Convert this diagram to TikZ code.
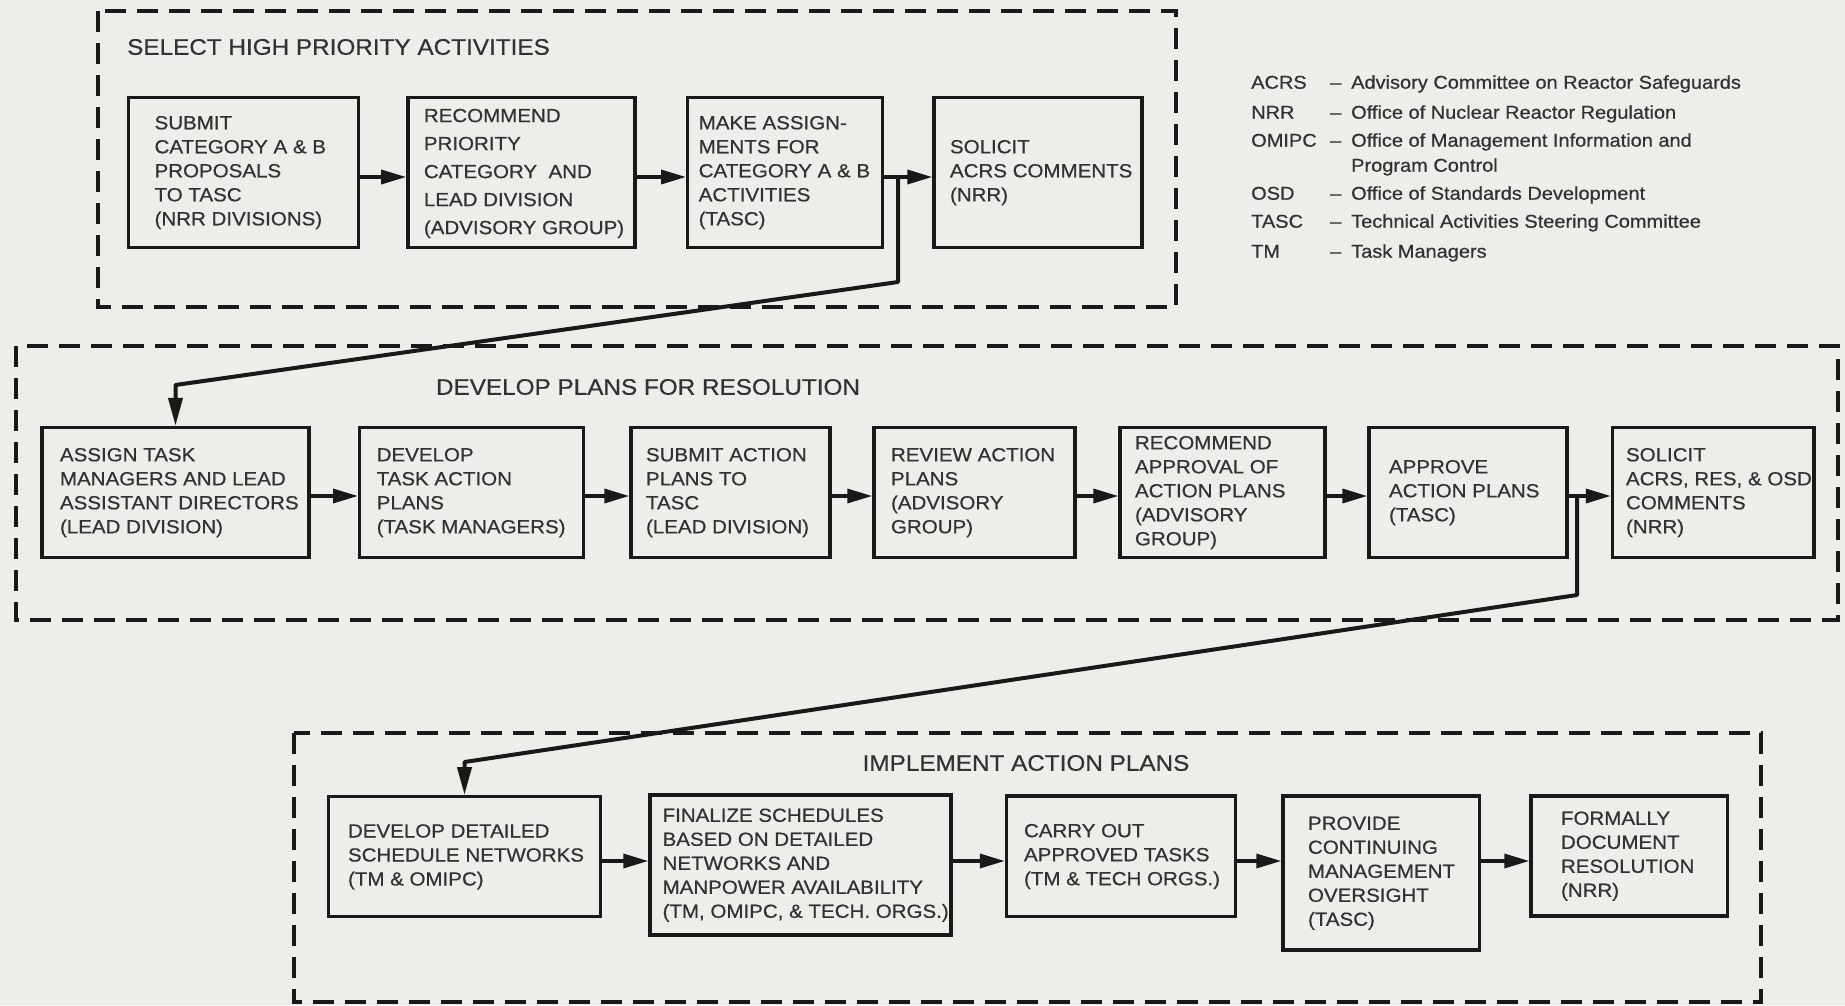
\documentclass[tikz,border=0pt]{standalone}
\usepackage{fontspec}
\setmainfont{Liberation Sans}[FakeStretch=1.08,FakeBold=0.6]
\usetikzlibrary{arrows.meta}
\definecolor{bg}{RGB}{237,237,234}
\definecolor{ink}{RGB}{25,25,25}
\definecolor{txt}{RGB}{50,50,50}
\newcommand\bxt[3]{\makebox[#1pt][l]{\hspace*{#2pt}\begin{tabular}{@{}l@{}}#3\end{tabular}}}
\tikzset{
  box/.style={draw=ink, line width=3.4pt, inner sep=0pt, text=txt, font=\fontsize{19}{24}\selectfont},
  grp/.style={draw=ink, line width=3.2pt, dash pattern=on 21pt off 11pt},
  ttl/.style={text=txt, inner sep=0pt, font=\fontsize{22.5}{26}\selectfont},
  arr/.style={draw=ink, line width=3.4pt, -{Triangle[length=25pt,width=14pt]}},
  conn/.style={draw=ink, line width=4pt, line join=round, -{Triangle[length=28pt,width=14pt]}},
}
\begin{document}
\begin{tikzpicture}[x=1pt,y=-1pt]
\fill[bg] (0,0) rectangle (1845,1005);
\useasboundingbox (0,0) rectangle (1845,1005);

% groups
\draw[grp] (98,11) rectangle (1176,307);
\draw[grp] (16,346) rectangle (1838,620);
\draw[grp] (294,733) rectangle (1761,1002);

\node[ttl, anchor=west] (t1) at (127,47) {SELECT HIGH PRIORITY ACTIVITIES};
\node[ttl] (t2) at (648,387) {DEVELOP PLANS FOR RESOLUTION};
\node[ttl] (t3) at (1026,763) {IMPLEMENT ACTION PLANS};

% legend
\node[anchor=base west, inner sep=0pt, text=txt, font=\fontsize{18.5}{28}\selectfont] (legend) at (1251,88.7)
 {\begin{tabular}[t]{@{}p{79pt}@{}p{21pt}@{}l@{}}
 ACRS & -- & Advisory Committee on Reactor Safeguards\\[2pt]
 NRR & -- & Office of Nuclear Reactor Regulation\\
 OMIPC & -- & Office of Management Information and\\[-3pt]
  & & Program Control\\
 OSD & -- & Office of Standards Development\\
 TASC & -- & Technical Activities Steering Committee\\[2pt]
 TM & -- & Task Managers
 \end{tabular}};

% row 1
\node[box, minimum width=230pt, minimum height=149.6pt] (A1) at (243.6,172.5)
 {\bxt{230}{26}{SUBMIT\\CATEGORY A \& B\\PROPOSALS\\TO TASC\\(NRR DIVISIONS)}};
\node[box, minimum width=227pt, minimum height=149.6pt, font=\fontsize{19}{28}\selectfont] (A2) at (521.4,172.5)
 {\bxt{227}{16}{RECOMMEND\\PRIORITY\\CATEGORY\ \ AND\\LEAD DIVISION\\(ADVISORY GROUP)}};
\node[box, minimum width=195pt, minimum height=149.6pt] (A3) at (785.2,172.5)
 {\bxt{195}{11}{MAKE ASSIGN-\\MENTS FOR\\CATEGORY A \& B\\ACTIVITIES\\(TASC)}};
\node[box, minimum width=208pt, minimum height=149.6pt] (A4) at (1038,172.5)
 {\bxt{208}{16}{SOLICIT\\ACRS COMMENTS\\(NRR)}};

% row 2
\node[box, minimum width=267pt, minimum height=130pt] (B1) at (175.5,492.5)
 {\bxt{267}{18}{ASSIGN TASK\\MANAGERS AND LEAD\\ASSISTANT DIRECTORS\\(LEAD DIVISION)}};
\node[box, minimum width=223.6pt, minimum height=130pt] (B2) at (471.5,492.5)
 {\bxt{223.6}{17}{DEVELOP\\TASK ACTION\\PLANS\\(TASK MANAGERS)}};
\node[box, minimum width=199pt, minimum height=130pt] (B3) at (730.5,492.5)
 {\bxt{199}{15}{SUBMIT ACTION\\PLANS TO\\TASC\\(LEAD DIVISION)}};
\node[box, minimum width=201pt, minimum height=130pt] (B4) at (974.5,492.5)
 {\bxt{201}{17}{REVIEW ACTION\\PLANS\\(ADVISORY\\GROUP)}};
\node[box, minimum width=205pt, minimum height=130pt] (B5) at (1222.5,492.5)
 {\bxt{205}{15}{RECOMMEND\\APPROVAL OF\\ACTION PLANS\\(ADVISORY\\GROUP)}};
\node[box, minimum width=198pt, minimum height=130pt] (B6) at (1468,492.5)
 {\bxt{198}{20}{APPROVE\\ACTION PLANS\\(TASC)}};
\node[box, minimum width=201.5pt, minimum height=130pt] (B7) at (1713.25,492.5)
 {\bxt{201.5}{13.5}{SOLICIT\\ACRS, RES, \& OSD\\COMMENTS\\(NRR)}};

% row 3
\node[box, minimum width=272pt, minimum height=120pt] (C1) at (464.5,856.7)
 {\bxt{272}{19.5}{DEVELOP DETAILED\\SCHEDULE NETWORKS\\(TM \& OMIPC)}};
\node[box, minimum width=301pt, minimum height=140pt] (C2) at (800.5,865)
 {\bxt{301}{12.6}{FINALIZE SCHEDULES\\BASED ON DETAILED\\NETWORKS AND\\MANPOWER AVAILABILITY\\(TM, OMIPC, \& TECH. ORGS.)}};
\node[box, minimum width=229pt, minimum height=120.7pt] (C3) at (1121,856.4)
 {\bxt{229}{17.5}{CARRY OUT\\APPROVED TASKS\\(TM \& TECH ORGS.)}};
\node[box, minimum width=196.6pt, minimum height=154pt] (C4) at (1381.3,873)
 {\bxt{196.6}{25}{PROVIDE\\CONTINUING\\MANAGEMENT\\OVERSIGHT\\(TASC)}};
\node[box, minimum width=196.5pt, minimum height=120pt] (C5) at (1629.25,856)
 {\bxt{196.5}{30}{FORMALLY\\DOCUMENT\\RESOLUTION\\(NRR)}};

% row levels for arrows
\coordinate (r1) at (0,177);
\coordinate (r2) at (0,496);
\coordinate (r3) at (0,861);

\draw[arr] (A1.east |- r1) -- (A2.west |- r1);
\draw[arr] (A2.east |- r1) -- (A3.west |- r1);
\draw[arr] (A3.east |- r1) -- (A4.west |- r1);

\draw[arr] (B1.east |- r2) -- (B2.west |- r2);
\draw[arr] (B2.east |- r2) -- (B3.west |- r2);
\draw[arr] (B3.east |- r2) -- (B4.west |- r2);
\draw[arr] (B4.east |- r2) -- (B5.west |- r2);
\draw[arr] (B5.east |- r2) -- (B6.west |- r2);
\draw[arr] (B6.east |- r2) -- (B7.west |- r2);

\draw[arr] (C1.east |- r3) -- (C2.west |- r3);
\draw[arr] (C2.east |- r3) -- (C3.west |- r3);
\draw[arr] (C3.east |- r3) -- (C4.west |- r3);
\draw[arr] (C4.east |- r3) -- (C5.west |- r3);

% connectors between groups
\coordinate (j1) at (898,177);
\coordinate (k1) at (898,282);
\coordinate (m1) at (175.5,385);
\draw[conn] (j1) -- (k1) -- (m1) -- (B1.north);

\coordinate (j2) at (1577,496);
\coordinate (k2) at (1577,595);
\coordinate (m2) at (464.5,762);
\draw[conn] (j2) -- (k2) -- (m2) -- (C1.north);
\end{tikzpicture}
\end{document}
